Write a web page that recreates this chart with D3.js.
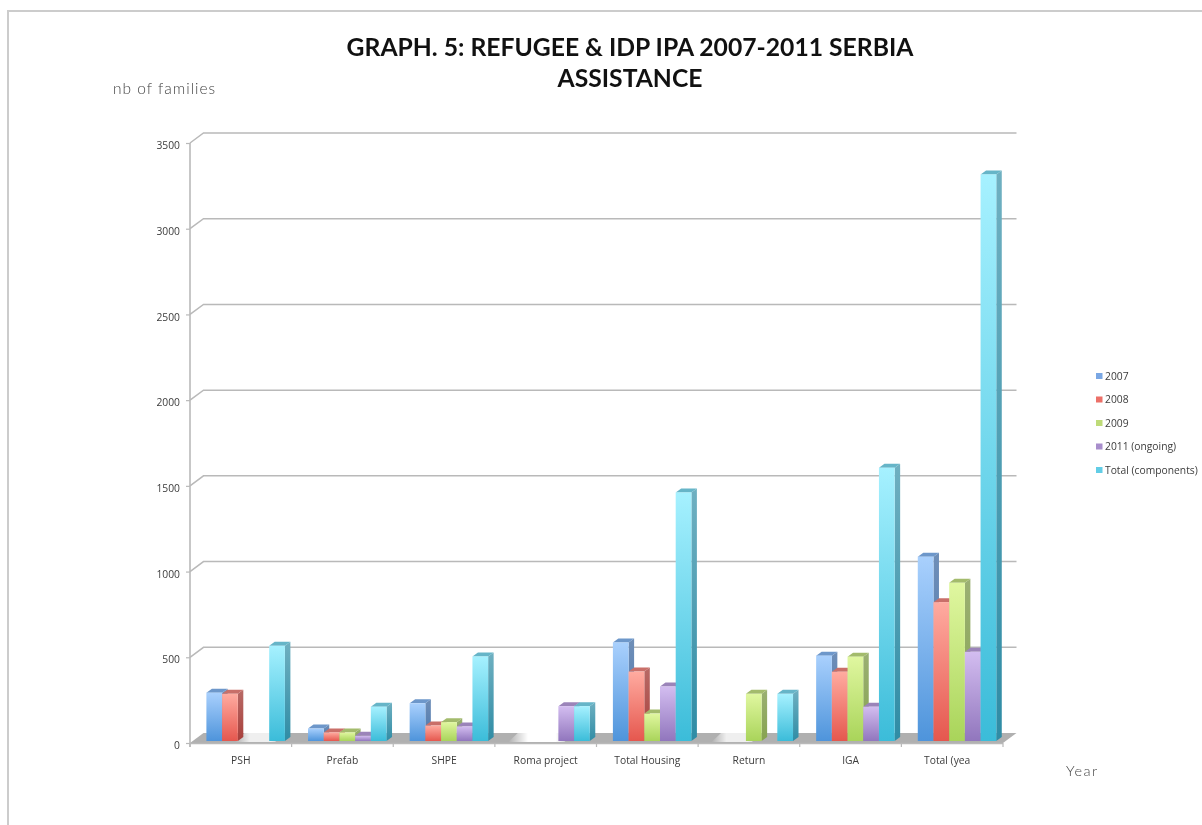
<!DOCTYPE html>
<html>
<head>
<meta charset="utf-8">
<title>Graph 5</title>
<script src="https://cdn.jsdelivr.net/npm/d3@7/dist/d3.min.js"></script>
<style>
html,body{margin:0;padding:0;background:#fff;overflow:hidden}
svg{display:block}
.tick-label,.axis text{font-family:"Open Sans",sans-serif;font-size:10.3px;fill:#3c3c3c}
</style>
</head>
<body>
<svg id="chart" width="1202" height="825"></svg>
<script>
const categories = ["PSH","Prefab","SHPE","Roma project","Total Housing","Return","IGA","Total (yea"];
const seriesNames = ["2007","2008","2009","2011 (ongoing)","Total (components)"];
const values2007 = [282,73,220,null,575,null,498,1075];
const values2008 = [275,50,90,null,405,null,404,810];
const values2009 = [null,50,110,null,160,275,492,923];
const values2011 = [null,30,85,203,318,null,200,520];
const valuesTotal = [555,200,493,203,1450,275,1594,3305];
const yTicks = [0,500,1000,1500,2000,2500,3000,3500];
const titleLines = ["GRAPH. 5: REFUGEE & IDP IPA 2007-2011 SERBIA","ASSISTANCE"];

const allSeries = [values2007,values2008,values2009,values2011,valuesTotal];
const palette = [
  {top:"#a9d0fd",bot:"#4e94db",sideTop:"#6f8fb8",sideBot:"#4a76ad",cap:"#6d97ca",key:"#7aa7e4"},
  {top:"#ffaba0",bot:"#e5574e",sideTop:"#b86a66",sideBot:"#a83f3b",cap:"#c96f69",key:"#ec7068"},
  {top:"#e0f7a0",bot:"#a9d45a",sideTop:"#9bb073",sideBot:"#86a34f",cap:"#a3bb6c",key:"#bedb78"},
  {top:"#d3bdf0",bot:"#9176bd",sideTop:"#8d78ab",sideBot:"#6f5a94",cap:"#9b84b9",key:"#a88ecc"},
  {top:"#a6f1ff",bot:"#3bbcd9",sideTop:"#6fb0c1",sideBot:"#2f8ca5",cap:"#66b5c8",key:"#62cde6"}
];

const svg = d3.select("#chart");
const defs = svg.append("defs");
defs.append("filter").attr("id","soft").attr("x","-2%").attr("y","-2%").attr("width","104%").attr("height","104%")
  .attr("color-interpolation-filters","sRGB")
  .append("feGaussianBlur").attr("stdDeviation",0.5);
palette.forEach((p,i)=>{
  [["face",p.top,p.bot],["side",p.sideTop,p.sideBot]].forEach(([n,a,b])=>{
    const g = defs.append("linearGradient").attr("id",n+i).attr("x1",0).attr("x2",0).attr("y1",0).attr("y2",1);
    g.append("stop").attr("offset",0).attr("stop-color",a);
    g.append("stop").attr("offset",1).attr("stop-color",b);
  });
});
const glint = defs.append("linearGradient").attr("id","glint");
[[0,0],[0.3,1],[0.72,1],[1,0]].forEach(([o,a])=>glint.append("stop").attr("offset",o).attr("stop-color","#fff").attr("stop-opacity",a));

const root = svg.append("g").attr("filter","url(#soft)");

const x0 = d3.scaleBand().domain(categories).range([190,1003]);
const x1 = d3.scaleBand().domain(seriesNames).range([16.4,16.4+78.5]);
const yAxisScale = d3.scaleLinear().domain([0,3500]).range([743,143]);
const y = v => yAxisScale(v) - 2;           // front plane of the bars
const wall = {dx:13.5,dy:-10};
const depth = {dx:5.5,dy:-4};
const grey = "#b9b9b9";

// page frame
root.append("path").attr("d",d3.line()([[8,825],[8,11],[1202,11]])).attr("fill","none").attr("stroke","#cccccc").attr("stroke-width",2);

// gridlines on the wall
root.append("g").selectAll("path").data(yTicks.filter(d=>d>0)).join("path")
  .attr("d",d=>d3.line()([[190,yAxisScale(d)],[190+wall.dx,yAxisScale(d)+wall.dy],[1003+wall.dx,yAxisScale(d)+wall.dy]]))
  .attr("fill","none").attr("stroke",grey).attr("stroke-width",1.5);

// floor
const fy = yAxisScale(0);
root.append("path").attr("d",d3.line()([[190,fy],[1003,fy],[1003+wall.dx,fy+wall.dy],[190+wall.dx,fy+wall.dy]])+"Z").attr("fill","#b0b0b0");

// glints on the floor where a series has no value
categories.forEach((c,ci)=>{
  let run = [];
  seriesNames.forEach((s,si)=>{
    if(allSeries[si][ci]===null) run.push(s);
    if(run.length && (si===seriesNames.length-1 || allSeries[si+1][ci]!==null)){
      if(run.length>1){
        const a = x0(c)+x1(run[0])-3, b = x0(c)+x1(run[run.length-1])+x1.bandwidth()+6;
        root.append("path").attr("d",d3.line()([[a,fy-1],[b,fy-1],[b+wall.dx-4,fy+wall.dy],[a+wall.dx-4,fy+wall.dy]])+"Z")
          .attr("fill","url(#glint)").attr("opacity",run.length>2?1:0.8);
      }
      run = [];
    }
  });
});

// axes
const yAxis = d3.axisLeft(yAxisScale).tickValues(yTicks).tickSize(4).tickPadding(6).tickFormat(d3.format("d"));
const gy = root.append("g").attr("class","axis").attr("transform","translate(190,0)").call(yAxis);
gy.select(".domain").attr("stroke",grey).attr("stroke-width",1.6).attr("d","M0,143V747");
gy.selectAll(".tick line").attr("stroke",grey).attr("stroke-width",1.2);
gy.selectAll(".tick text").attr("dy","0.55em");

const edges = categories.map(c=>x0(c)).concat([x0.range()[1]]);
root.append("path").attr("d",d3.line()([[190,fy+.5],[1003,fy+.5]])).attr("stroke",grey).attr("stroke-width",1.5);
root.append("g").selectAll("line").data(edges).join("line")
  .attr("x1",d=>d).attr("x2",d=>d).attr("y1",fy).attr("y2",fy+4).attr("stroke",grey).attr("stroke-width",1.2);
root.append("g").selectAll("text").data(categories).join("text").attr("class","tick-label")
  .attr("x",(d,i)=>x0(d)+x0.bandwidth()/2-(i===categories.length-1?5:0)).attr("y",764).attr("text-anchor","middle").text(d=>d);

// bars
const gBars = root.append("g");
categories.forEach((c,ci)=>{
  seriesNames.forEach((s,si)=>{
    const v = allSeries[si][ci];
    if(v===null) return;
    const l = x0(c)+x1(s), w = x1.bandwidth(), r = l+w, t = y(v), b = y(0);
    const g = gBars.append("g");
    g.append("path").attr("d",d3.line()([[r,t],[r+depth.dx,t+depth.dy],[r+depth.dx,b+depth.dy],[r,b]])+"Z").attr("fill",`url(#side${si})`);
    g.append("path").attr("d",d3.line()([[l,t],[l+depth.dx,t+depth.dy],[r+depth.dx,t+depth.dy],[r,t]])+"Z").attr("fill",palette[si].cap);
    g.append("rect").attr("x",l).attr("y",t).attr("width",w).attr("height",b-t).attr("fill",`url(#face${si})`);
  });
});

// legend
const legY = d3.scalePoint().domain(seriesNames).range([376,470]);
const leg = root.append("g").selectAll("g").data(seriesNames).join("g").attr("transform",d=>`translate(1096,${legY(d)})`);
leg.append("rect").attr("y",-3).attr("width",6.5).attr("height",6).attr("fill",(d,i)=>palette[i].key);
leg.append("text").attr("class","tick-label").attr("x",9).attr("y",3.5).text(d=>d);

// title and axis names
root.append("g").selectAll("text").data(titleLines).join("text")
  .attr("x",630).attr("y",(d,i)=>56+i*31).attr("text-anchor","middle")
  .attr("font-family","Lato, sans-serif").attr("font-weight",700).attr("font-size",24.7).attr("fill","#111").text(d=>d);
root.append("text").attr("x",113).attr("y",94).attr("font-family","Lato, sans-serif").attr("font-weight",300)
  .attr("font-size",15.5).attr("letter-spacing",1).attr("fill","#444").text("nb of families");
root.append("text").attr("x",1066).attr("y",776).attr("font-family","Lato, sans-serif").attr("font-weight",300)
  .attr("font-size",14.5).attr("letter-spacing",1.4).attr("fill","#444").text("Year");
</script>
</body>
</html>
